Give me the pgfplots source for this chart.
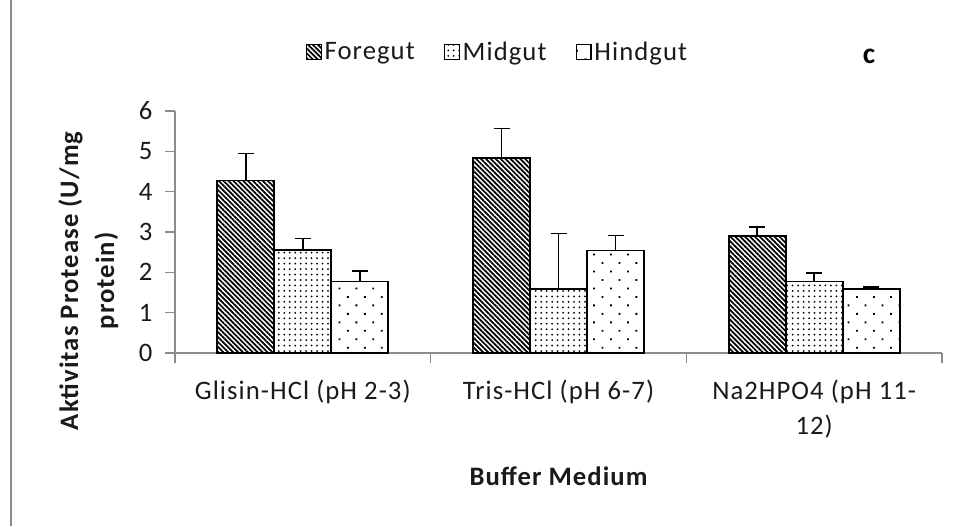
\documentclass[border=0pt]{standalone}
\usepackage{fontspec}
\setmainfont[LetterSpace=4]{Carlito}
\usepackage{pgfplots}
\pgfplotsset{compat=1.18}
\usetikzlibrary{patterns.meta}
\definecolor{axgray}{HTML}{8C8C8C}
\definecolor{txt}{HTML}{1A1A1A}
\pgfplotsset{myerr/.style={error bars/.cd, y dir=plus, y explicit,
    error bar style={line width=1.2pt, black},
    error mark options={rotate=90, mark size=6pt, line width=1.2pt, black}}}
\begin{document}
\begin{tikzpicture}
\path[use as bounding box] (0pt,0pt) rectangle (718.5pt,-394.5pt);
\draw[axgray, line width=1.3pt] (8.25pt,0pt) -- (8.25pt,-394.5pt);
\begin{axis}[
  at={(131.25pt,-264.75pt)}, anchor=south west,
  scale only axis, width=575.25pt, height=181.5pt,
  xmin=-0.5, xmax=2.5, ymin=0, ymax=6,
  ybar=0pt, bar width=42.75pt,
  axis x line*=bottom, axis y line*=left,
  axis line style={draw=axgray, line width=1.1pt, -},
  tick align=outside,
  xtick={0,1,2},
  xticklabels={Glisin-HCl (pH 2-3), Tris-HCl (pH 6-7), {Na2HPO4 (pH 11-\\12)}},
  minor xtick={-0.5,0.5,1.5,2.5},
  major x tick style={draw=none},
  minor x tick style={draw=axgray, line width=1.1pt},
  minor tick length=7.5pt,
  ytick={0,1,2,3,4,5,6},
  y tick style={draw=axgray, line width=1.1pt},
  major tick length=7.5pt,
  /pgf/number format/assume math mode=true,
  ticklabel style={font=\fontsize{20}{26.5}\selectfont, text=txt},
  xticklabel style={align=center, anchor=north, yshift=-9pt},
  yticklabel style={anchor=east, xshift=-6pt},
  xlabel={Buffer Medium},
  ylabel={Aktivitas Protease (U/mg\\protein)},
  label style={font=\bfseries\fontsize{20}{27}\selectfont, text=txt},
  xlabel style={at={(axis description cs:0.5,-0.508)}, anchor=center},
  ylabel style={align=center, at={(axis description cs:-0.113,0.298)}, anchor=center},
  legend style={at={(axis description cs:0.421,1.244)}, anchor=center, draw=none,
    font=\fontsize{20}{22}\selectfont, text=txt, legend columns=-1,
    /tikz/every even column/.append style={column sep=20pt}},
  legend image code/.code={\draw[#1, line width=1pt] (0pt,-5.5pt) rectangle (11pt,5.5pt);},
]
\addplot[draw=black, line width=1.3pt, pattern={Lines[angle=-45,distance=2.6pt,line width=1.3pt]}, pattern color=black, myerr]
  coordinates {(0,4.28) +- (0,0.67) (1,4.83) +- (0,0.74) (2,2.91) +- (0,0.22)};
\addplot[draw=black, line width=1.3pt, pattern={Dots[distance=4.1pt,radius=0.75pt]}, pattern color=black, myerr]
  coordinates {(0,2.56) +- (0,0.28) (1,1.59) +- (0,1.37) (2,1.77) +- (0,0.22)};
\addplot[draw=black, line width=1.3pt, pattern={Dots[distance=9pt,angle=45,radius=0.95pt]}, pattern color=black, myerr]
  coordinates {(0,1.77) +- (0,0.27) (1,2.54) +- (0,0.37) (2,1.59) +- (0,0.05)};
\legend{Foregut, Midgut, Hindgut}
\end{axis}
\node[font=\bfseries\fontsize{22}{22}\selectfont] at (651.75pt,-42pt) {c};
\end{tikzpicture}
\end{document}
